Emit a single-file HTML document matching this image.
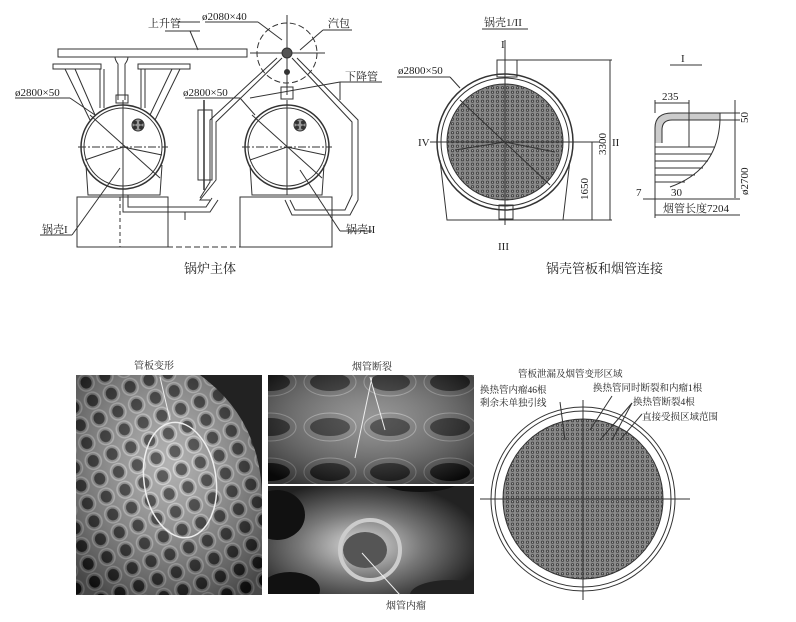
<!DOCTYPE html>
<html><head><meta charset="utf-8"><style>
html,body{margin:0;padding:0;background:#fff;}
svg{display:block;}
text{font-family:"Liberation Serif","Noto Serif CJK SC",serif;fill:#222;}
</style></head><body>
<svg width="796" height="622" viewBox="0 0 796 622" xmlns="http://www.w3.org/2000/svg">
<defs>
<pattern id="tb" width="6" height="5" patternUnits="userSpaceOnUse">
<rect width="6" height="5" fill="#999"/><circle cx="3" cy="2.5" r="2" fill="#333"/>
</pattern>
<pattern id="tb2" width="5" height="4.5" patternUnits="userSpaceOnUse">
<rect width="5" height="4.5" fill="#8a8a8a"/><circle cx="2.5" cy="2.2" r="1.6" fill="#444"/><circle cx="2.5" cy="2.2" r="0.6" fill="#bbb"/>
</pattern>
<pattern id="holes" width="20" height="19" patternUnits="userSpaceOnUse" patternTransform="rotate(-20)">
<rect width="20" height="19" fill="#909090"/><ellipse cx="10" cy="9" rx="5.5" ry="6" fill="#1a1a1a"/><ellipse cx="10" cy="9" rx="8" ry="8.5" fill="none" stroke="#c8c8c8" stroke-width="1.5"/>
</pattern>
<pattern id="holes2" width="60" height="45" patternUnits="userSpaceOnUse">
<rect width="60" height="45" fill="#6a6a6a"/><ellipse cx="30" cy="22" rx="20" ry="9" fill="#111"/><ellipse cx="30" cy="22" rx="26" ry="14" fill="none" stroke="#aaa" stroke-width="1"/>
</pattern>
<radialGradient id="g2" cx="0.5" cy="0.4" r="0.7"><stop offset="0" stop-color="#fff" stop-opacity="0.3"/><stop offset="1" stop-color="#000" stop-opacity="0.5"/></radialGradient>
<radialGradient id="g3" cx="0.45" cy="0.55" r="0.6"><stop offset="0" stop-color="#ddd"/><stop offset="0.5" stop-color="#777"/><stop offset="1" stop-color="#222"/></radialGradient>
<clipPath id="c1"><rect x="76" y="375" width="186" height="220"/></clipPath>
<clipPath id="c2"><rect x="268" y="375" width="206" height="109"/></clipPath>
<clipPath id="c3"><rect x="268" y="486" width="206" height="108"/></clipPath>
</defs>

<!-- ===== Top-left: boiler main ===== -->
<g stroke="#333" stroke-width="1" fill="none">
<rect x="77" y="197" width="91" height="50"/>
<rect x="240" y="197" width="92" height="50"/>
<line x1="120" y1="197" x2="120" y2="247" stroke-dasharray="4 3"/>
<line x1="122" y1="247" x2="290" y2="247" stroke-dasharray="6 3"/>
<circle cx="123" cy="147" r="42" stroke-width="1.5"/>
<circle cx="123" cy="147" r="39"/>
<circle cx="287" cy="147" r="42" stroke-width="1.5"/>
<circle cx="287" cy="147" r="39"/>
<circle cx="138" cy="125" r="6" fill="url(#tb)"/>
<circle cx="300" cy="125" r="6" fill="url(#tb)"/>
<line x1="78" y1="147" x2="168" y2="147" stroke-dasharray="8 2 2 2"/>
<line x1="242" y1="147" x2="332" y2="147" stroke-dasharray="8 2 2 2"/>
<line x1="123" y1="100" x2="123" y2="195"/>
<line x1="287" y1="100" x2="287" y2="195"/>
<line x1="90" y1="115" x2="160" y2="178"/><line x1="85" y1="160" x2="123" y2="147"/><line x1="123" y1="147" x2="162" y2="155"/>
<line x1="252" y1="115" x2="322" y2="178"/><line x1="250" y1="160" x2="287" y2="147"/><line x1="287" y1="147" x2="325" y2="155"/>
<path d="M86 165 L88 195 L160 195 L162 165"/>
<path d="M250 165 L252 195 L322 195 L324 165"/>
<rect x="53" y="64" width="48" height="5"/><rect x="138" y="64" width="52" height="5"/>
<path d="M65 69 L90 120 M75 69 L95 115"/><path d="M180 69 L155 120 M172 69 L150 115"/>
<line x1="100" y1="69" x2="100" y2="108"/><line x1="104" y1="69" x2="104" y2="108"/>
<line x1="141" y1="69" x2="141" y2="108"/><line x1="145" y1="69" x2="145" y2="108"/>
<path d="M58 49 L247 49 L247 57 L58 57 Z"/>
<path d="M115 57 Q115 60 118 64 L118 100 M128 57 Q128 60 125 64 L125 100"/>
<rect x="116" y="95" width="12" height="8"/>
<circle cx="287" cy="53" r="30" stroke-dasharray="6 3"/>
<line x1="287" y1="15" x2="287" y2="95"/>
<line x1="250" y1="53" x2="325" y2="53"/>
<circle cx="287" cy="53" r="5" fill="#555"/>
<circle cx="287" cy="72" r="2.5" fill="#333"/>
<rect x="281" y="87" width="12" height="12"/>
<path d="M282 58 L216 122 L216 180 L200 200 L210 200 M292 58 L352 122 L352 195 L345 210 L295 210 L290 200"/>
<path d="M277 58 L210 120 L210 182 L200 198"/>
<path d="M297 58 L358 120 L358 200 L350 215 L292 215 L285 200"/>
<path d="M123 195 L123 212 L210 212 L218 200 M128 195 L128 207 L206 207 L212 198"/>
<line x1="185" y1="212" x2="185" y2="220"/>
<rect x="198" y="110" width="14" height="70"/>
<line x1="204" y1="100" x2="204" y2="190" stroke-width="1.5"/>
<line x1="178" y1="22" x2="200" y2="22"/><line x1="165" y1="31" x2="200" y2="31" />
<line x1="190" y1="31" x2="198" y2="50"/>
<line x1="205" y1="22" x2="258" y2="22"/><line x1="258" y1="22" x2="282" y2="40"/>
<line x1="323" y1="30" x2="352" y2="30"/><line x1="323" y1="30" x2="300" y2="50"/>
<line x1="340" y1="82" x2="382" y2="82"/><line x1="340" y1="82" x2="250" y2="98"/><line x1="340" y1="82" x2="340" y2="100"/>
<line x1="15" y1="98" x2="70" y2="98"/><line x1="70" y1="98" x2="95" y2="115"/>
<line x1="185" y1="98" x2="240" y2="98"/><line x1="240" y1="98" x2="255" y2="115"/>
<line x1="40" y1="235" x2="72" y2="235"/><line x1="72" y1="235" x2="120" y2="168"/>
<line x1="340" y1="231" x2="372" y2="231"/><line x1="340" y1="231" x2="300" y2="170"/>
</g>
<g font-size="11">
<text x="148" y="27">上升管</text>
<text x="202" y="20">ø2080×40</text>
<text x="328" y="27">汽包</text>
<text x="345" y="80">下降管</text>
<text x="15" y="96">ø2800×50</text>
<text x="183" y="96">ø2800×50</text>
<text x="42" y="233">锅壳I</text>
<text x="346" y="233">锅壳II</text>
<text x="184" y="273" font-size="13">锅炉主体</text>
</g>

<!-- ===== Top-right ===== -->
<g stroke="#333" stroke-width="1" fill="none">
<circle cx="505" cy="142" r="68" stroke-width="1.5"/>
<circle cx="505" cy="142" r="64"/>
<circle cx="505" cy="142" r="58" fill="url(#tb2)"/>
<rect x="497" y="60" width="20" height="17"/>
<rect x="499" y="205" width="14" height="14"/>
<path d="M440 160 L447 220 L563 220 L570 160"/>
<line x1="430" y1="142" x2="580" y2="142"/>
<line x1="505" y1="40" x2="505" y2="225"/>
<line x1="460" y1="100" x2="550" y2="185"/>
<line x1="455" y1="150" x2="505" y2="142"/><line x1="505" y1="142" x2="555" y2="152"/>
<line x1="482" y1="29" x2="528" y2="29"/>
<line x1="397" y1="77" x2="450" y2="77"/><line x1="450" y1="77" x2="460" y2="88"/>
<line x1="517" y1="60" x2="612" y2="60"/><line x1="610" y1="60" x2="610" y2="220"/>
<line x1="563" y1="220" x2="612" y2="220"/>
<line x1="570" y1="142" x2="600" y2="142"/><line x1="592" y1="142" x2="592" y2="220"/>
<line x1="670" y1="65" x2="702" y2="65"/>
<path d="M655 143 L655 128 Q655 113 672 113 L720 113 L720 120 L672 120 Q662 120 662 130 L662 143" fill="#ccc"/>
<path d="M720 120 Q718 170 670 187"/>
<line x1="655" y1="143" x2="655" y2="190"/>
<line x1="655" y1="147" x2="715" y2="147"/><line x1="655" y1="154" x2="712" y2="154"/>
<line x1="655" y1="161" x2="708" y2="161"/><line x1="655" y1="168" x2="703" y2="168"/>
<line x1="655" y1="175" x2="695" y2="175"/><line x1="655" y1="182" x2="685" y2="182"/>
<line x1="689" y1="113" x2="689" y2="147"/>
<line x1="655" y1="103" x2="689" y2="103"/><line x1="655" y1="100" x2="655" y2="113"/><line x1="689" y1="100" x2="689" y2="113"/>
<line x1="735" y1="100" x2="735" y2="198"/><line x1="720" y1="113" x2="740" y2="113"/><line x1="720" y1="120" x2="740" y2="120"/>
<line x1="643" y1="199" x2="665" y2="199"/><line x1="655" y1="199" x2="740" y2="199" />
<line x1="655" y1="215" x2="740" y2="215"/><line x1="655" y1="190" x2="655" y2="218"/>
</g>
<g font-size="11">
<text x="484" y="26">锅壳1/II</text>
<text x="501" y="48">I</text>
<text x="398" y="74">ø2800×50</text>
<text x="418" y="146">IV</text>
<text x="612" y="146">II</text>
<text x="498" y="250">III</text>
<text x="681" y="62">I</text>
<text x="662" y="100">235</text>
<text x="636" y="196">7</text>
<text x="671" y="196">30</text>
<text x="663" y="212">烟管长度7204</text>
<text transform="translate(606,155) rotate(-90)">3300</text>
<text transform="translate(588,200) rotate(-90)">1650</text>
<text transform="translate(748,195) rotate(-90)">ø2700</text>
<text transform="translate(748,123) rotate(-90)">50</text>
<text x="546" y="273" font-size="13">锅壳管板和烟管连接</text>
</g>

<!-- ===== Bottom photos ===== -->
<g clip-path="url(#c1)">
<rect x="76" y="375" width="186" height="220" fill="url(#holes)"/>
<rect x="76" y="375" width="186" height="220" fill="url(#g2)"/>
<path d="M200 375 Q262 420 262 500 L262 375 Z" fill="#222"/>
</g>
<ellipse cx="180" cy="480" rx="36" ry="58" fill="none" stroke="#eee" stroke-width="1.5" transform="rotate(-8 180 480)"/>
<line x1="160" y1="377" x2="170" y2="420" stroke="#eee"/>
<g clip-path="url(#c2)">
<rect x="268" y="375" width="206" height="109" fill="url(#holes2)"/>
<rect x="268" y="375" width="206" height="109" fill="url(#g2)"/>
</g>
<line x1="370" y1="377" x2="385" y2="430" stroke="#eee"/><line x1="372" y1="377" x2="355" y2="458" stroke="#eee"/>
<g clip-path="url(#c3)">
<rect x="268" y="486" width="206" height="108" fill="url(#g3)"/>
<ellipse cx="277" cy="515" rx="28" ry="25" fill="#111"/>
<ellipse cx="420" cy="480" rx="40" ry="12" fill="#111"/>
<ellipse cx="290" cy="590" rx="30" ry="18" fill="#111"/>
<ellipse cx="450" cy="595" rx="40" ry="15" fill="#222"/>
<circle cx="370" cy="550" r="30" fill="none" stroke="#ccc" stroke-width="4"/>
<ellipse cx="365" cy="550" rx="22" ry="18" fill="#555"/>
</g>
<line x1="362" y1="553" x2="400" y2="595" stroke="#eee"/>
<g font-size="10">
<text x="134" y="369">管板变形</text>
<text x="352" y="370">烟管断裂</text>
<text x="386" y="609">烟管内瘤</text>
</g>

<!-- ===== Bottom right circle ===== -->
<g stroke="#333" stroke-width="1" fill="none">
<circle cx="583" cy="499" r="92"/>
<circle cx="583" cy="499" r="88"/>
<circle cx="583" cy="499" r="80" fill="url(#tb2)"/>
<line x1="480" y1="499" x2="690" y2="499"/>
<line x1="583" y1="400" x2="583" y2="600"/>
<line x1="560" y1="402" x2="565" y2="440"/><line x1="612" y1="396" x2="590" y2="430"/>
<line x1="632" y1="403" x2="600" y2="440"/><line x1="632" y1="403" x2="612" y2="440"/>
<line x1="642" y1="414" x2="620" y2="440"/>
</g>
<g font-size="9.5">
<text x="518" y="377">管板泄漏及烟管变形区域</text>
<text x="480" y="393">换热管内瘤46根</text>
<text x="480" y="406">剩余未单独引线</text>
<text x="593" y="391">换热管同时断裂和内瘤1根</text>
<text x="633" y="405">换热管断裂4根</text>
<text x="642" y="420">直接受损区域范围</text>
</g>
</svg>
</body></html>
